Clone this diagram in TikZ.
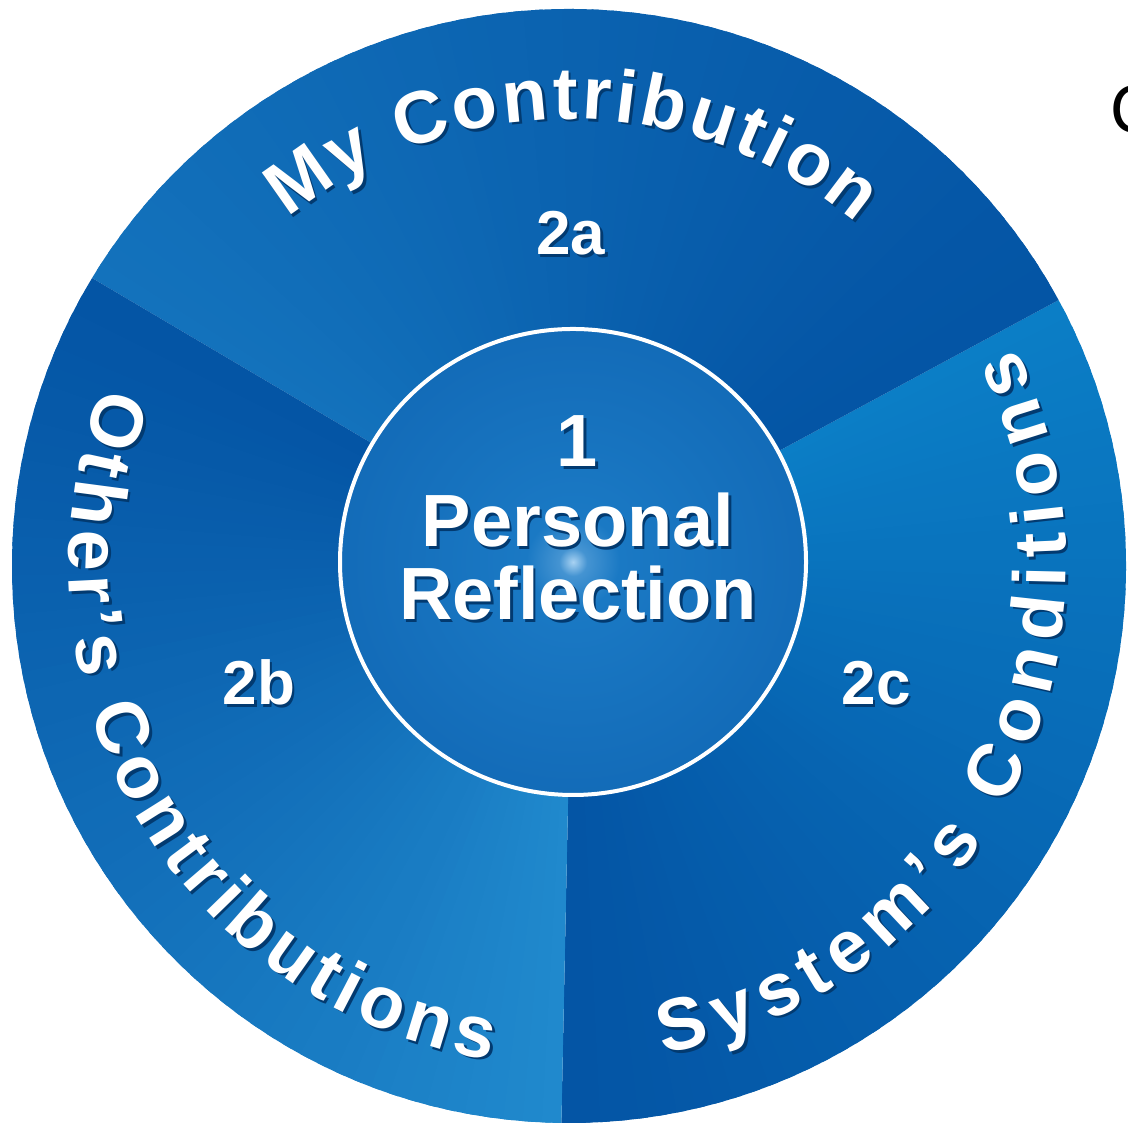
\documentclass[tikz,border=0pt]{standalone}
\usepackage{fontspec}
\setmainfont{Liberation Sans}
\newfontfamily\calfont{Carlito}
\usetikzlibrary{decorations.text}
\definecolor{darkA}{HTML}{0455A5}
\definecolor{lightTop}{HTML}{1372BC}
\definecolor{lightLeft}{HTML}{2089CD}
\definecolor{lightRight}{HTML}{0B7EC6}
\definecolor{discEdge}{HTML}{0A5AA9}
\definecolor{discMid}{HTML}{1A79C4}
\definecolor{glow}{HTML}{A8D2F2}
\definecolor{shadowc}{HTML}{023A70}
\pgfdeclareradialshading{discshade}{\pgfpointorigin}{color(0bp)=(glow); color(1.5bp)=(discMid!70!glow); color(5bp)=(discMid); color(50bp)=(discEdge)}
\newcommand\arcfont{\fontsize{37}{37}\selectfont\bfseries}
\begin{document}
\begin{tikzpicture}[x=0.5pt,y=0.5pt,
  ctext/.style={font=\fontsize{37}{37}\selectfont\bfseries, text=white, inner sep=0pt},
  cshadow/.style={font=\fontsize{37}{37}\selectfont\bfseries, text=shadowc, inner sep=0pt, xshift=1.3pt, yshift=-1.3pt},
  ltext/.style={font=\fontsize{31}{31}\selectfont\bfseries, text=white, inner sep=0pt},
  lshadow/.style={font=\fontsize{31}{31}\selectfont\bfseries, text=shadowc, inner sep=0pt, xshift=1.2pt, yshift=-1.2pt},
  arctext/.style={decorate, decoration={text along path, text align=fit to path, text color=white, text={#1}}},
  arcshadow/.style={decorate, decoration={text along path, text align=fit to path, text color=shadowc, text={#1}}}]
\fill[white] (0,0) rectangle (1128,1127);
\useasboundingbox (0,0) rectangle (1128,1127);
\coordinate (O) at (569,561);
\coordinate (P) at (573,565);
% sectors with conical gradient
\begin{scope}
\clip (O) circle[radius=557];
\foreach \s/\e/\lc in {269.2/388.5/lightRight, 28.5/148.9/lightTop, 148.9/269.2/lightLeft}{
  \foreach \i in {0,...,59}{
    \pgfmathsetmacro\a{\s+(\e-\s)*\i/60}
    \pgfmathsetmacro\b{\s+(\e-\s)*min(\i+1.5,60)/60}
    \pgfmathtruncatemacro\p{100*(\i/59)^1.15}
    \fill[\lc!\p!darkA] (P) -- ([shift={(O)}]\a:580) arc[start angle=\a, end angle=\b, radius=580] -- cycle;
  }
}
\end{scope}
% inner disc
\shade[shading=discshade] (P) circle[radius=233];
\draw[white, line width=2pt] (P) circle[radius=233];
% centre text
\node[cshadow, anchor=base] (oneS) at (577,660) {1};
\node[ctext, anchor=base] (one) at (577,660) {1};
\node[cshadow, anchor=base] (persS) at (578,580) {Personal};
\node[ctext, anchor=base] (pers) at (578,580) {Personal};
\node[cshadow, anchor=base] (reflS) at (578,507) {Reflection};
\node[ctext, anchor=base] (refl) at (578,507) {Reflection};
% sector numbers
\node[lshadow, anchor=base] (twoaS) at (571,872) {2a};
\node[ltext, anchor=base] (twoa) at (571,872) {2a};
\node[lshadow, anchor=base] (twobS) at (259,422) {2b};
\node[ltext, anchor=base] (twob) at (259,422) {2b};
\node[lshadow, anchor=base] (twocS) at (876,422) {2c};
\node[ltext, anchor=base] (twoc) at (876,422) {2c};
% curved titles: shadows
\begin{scope}[shift={(2.6,-2.6)}]
\path[arcshadow={|\arcfont|My Contribution}] ([shift={(O)}]129:447) arc[start angle=129, end angle=50, radius=447];
\path[arcshadow={|\arcfont|Other’s Contributions}] ([shift={(O)}]159:500) arc[start angle=159, end angle=261, radius=500];
\path[arcshadow={|\arcfont|System’s Conditions}] ([shift={(O)}]281:497) arc[start angle=281, end angle=386, radius=497];
\end{scope}
\path[arctext={|\arcfont|My Contribution}] ([shift={(O)}]129:447) arc[start angle=129, end angle=50, radius=447];
\path[arctext={|\arcfont|Other’s Contributions}] ([shift={(O)}]159:500) arc[start angle=159, end angle=261, radius=500];
\path[arctext={|\arcfont|System’s Conditions}] ([shift={(O)}]281:497) arc[start angle=281, end angle=386, radius=497];
% cut-off text at the right edge
\node[font=\calfont\fontsize{36}{36}\selectfont, text=black, inner sep=0pt, anchor=base west] (cut) at (1111,994) {C};
\end{tikzpicture}
\end{document}
